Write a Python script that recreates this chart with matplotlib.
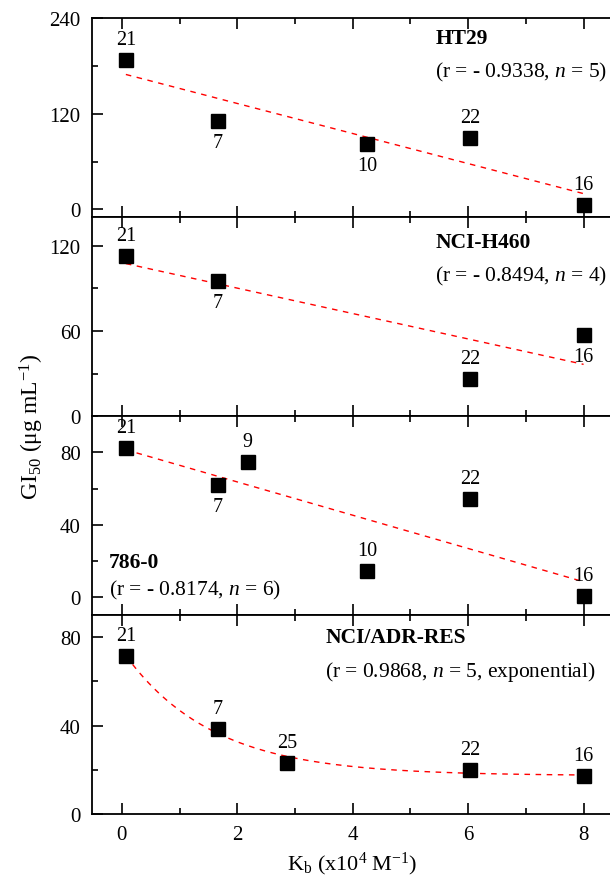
import numpy as np
import matplotlib
matplotlib.use("Agg")
import matplotlib.pyplot as plt
from matplotlib.ticker import MultipleLocator

plt.rcParams['font.family'] = ['Liberation Serif', 'DejaVu Serif']
plt.rcParams['mathtext.fontset'] = 'custom'
plt.rcParams['mathtext.rm'] = 'Liberation Serif'
plt.rcParams['mathtext.it'] = 'Liberation Serif:italic'
plt.rcParams['mathtext.bf'] = 'Liberation Serif:bold'

# data: Kb (x10^4 M^-1) vs GI50 (ug/mL), labels = compound ids
ht29_x = [0.07, 1.66, 4.25, 6.03, 8.0]
ht29_y = [188, 111, 82, 90, 5]
ht29_lab = ['21', '7', '10', '22', '16']
ht29_pos = ['up', 'down', 'down', 'up', 'up']

h460_x = [0.07, 1.66, 6.03, 8.0]
h460_y = [112.9, 95.0, 26.0, 57.2]
h460_lab = ['21', '7', '22', '16']
h460_pos = ['up', 'down', 'up', 'down']

r786_x = [0.07, 1.66, 2.18, 4.25, 6.03, 8.0]
r786_y = [82.6, 62.1, 74.6, 14.2, 54.2, 0.4]
r786_lab = ['21', '7', '9', '10', '22', '16']
r786_pos = ['up', 'down', 'up', 'up', 'up', 'up']

adr_x = [0.07, 1.66, 2.87, 6.03, 8.0]
adr_y = [71.4, 38.5, 23.2, 19.8, 17.4]
adr_lab = ['21', '7', '25', '22', '16']
adr_pos = ['up', 'up', 'up', 'up', 'up']

panels = [
    dict(x=ht29_x, y=ht29_y, lab=ht29_lab, pos=ht29_pos, ylim=(-10, 240),
         major=120, minor=60, name='HT29', stat=r'(r = - 0.9338, $n$ = 5)',
         tx=0.66, ty1=0.90, ty2=0.735, fit='lin'),
    dict(x=h460_x, y=h460_y, lab=h460_lab, pos=h460_pos, ylim=(0, 140),
         major=60, minor=30, name='NCI-H460', stat=r'(r = - 0.8494, $n$ = 4)',
         tx=0.66, ty1=0.877, ty2=0.707, fit='lin'),
    dict(x=r786_x, y=r786_y, lab=r786_lab, pos=r786_pos, ylim=(-10, 100),
         major=40, minor=20, name='786-0', stat=r'(r = - 0.8174, $n$ = 6)',
         tx=0.033, ty1=0.265, ty2=0.13, fit='lin'),
    dict(x=adr_x, y=adr_y, lab=adr_lab, pos=adr_pos, ylim=(0, 90),
         major=40, minor=20, name='NCI/ADR-RES', stat=r'(r = 0.9868, $n$ = 5, exponential)',
         tx=0.448, ty1=0.89, ty2=0.72, fit='exp'),
]

fig = plt.figure(figsize=(6.1, 8.79), dpi=100)
left, right, top, bottom = 0.1505, 1.004, 0.978, 0.0728
h = (top - bottom) / 4

for i, p in enumerate(panels):
    ax = fig.add_axes([left, top - (i + 1) * h, right - left, h])
    x = np.array(p['x'])
    y = np.array(p['y'])
    ax.plot(x, y, 's', color='black', markersize=9.5, zorder=3)

    xs = np.linspace(x.min(), x.max(), 200)
    if p['fit'] == 'lin':
        k, b = np.polyfit(x, y, 1)
        ys = k * xs + b
    else:
        # y = y0 + A*exp(-x/t), grid search on t
        best = None
        for t in np.linspace(0.3, 5, 500):
            M = np.column_stack([np.ones_like(x), np.exp(-x / t)])
            coef, res, _, _ = np.linalg.lstsq(M, y, rcond=None)
            err = np.sum((M @ coef - y) ** 2)
            if best is None or err < best[0]:
                best = (err, t, coef)
        _, t, coef = best
        ys = coef[0] + coef[1] * np.exp(-xs / t)
    ax.plot(xs, ys, '--', color='red', lw=1.0, dashes=(4, 4), zorder=2)

    span = p['ylim'][1] - p['ylim'][0]
    for xi, yi, lab, pos in zip(x, y, p['lab'], p['pos']):
        if pos == 'up':
            ax.text(xi, yi + 0.055 * span, lab, ha='center', va='bottom', fontsize=14.5)
        else:
            ax.text(xi, yi - 0.06 * span, lab, ha='center', va='top', fontsize=14.5)

    ax.text(p['tx'], p['ty1'], p['name'], transform=ax.transAxes, fontsize=15.5,
            fontweight='bold', va='center', ha='left')
    ax.text(p['tx'], p['ty2'], p['stat'], transform=ax.transAxes, fontsize=15.5,
            va='center', ha='left')

    ax.set_xlim(-0.52, 8.5)
    ax.set_ylim(*p['ylim'])
    ax.yaxis.set_major_locator(MultipleLocator(p['major']))
    ax.yaxis.set_minor_locator(MultipleLocator(p['minor']))
    ax.xaxis.set_major_locator(MultipleLocator(2))
    ax.xaxis.set_minor_locator(MultipleLocator(1))
    ax.tick_params(which='both', direction='in', top=True, right=False, width=1.2)
    ax.tick_params(which='major', length=8, labelsize=15, pad=8)
    ax.tick_params(which='minor', length=4)
    ax.spines['right'].set_visible(False)
    for s in ax.spines.values():
        s.set_linewidth(1.3)
    if i < 3:
        ax.tick_params(labelbottom=False)
    else:
        ax.set_xlabel(r'K$_\mathrm{b}$ (x10$^4$ M$^{-1}$)', fontsize=16, labelpad=4)

fig.text(0.052, 0.514, r'GI$_{50}$ ($\mathrm{\mu}$g mL$^{-1}$)', rotation=90,
         fontsize=17, ha='center', va='center')

fig.savefig('out.png', dpi=100)
